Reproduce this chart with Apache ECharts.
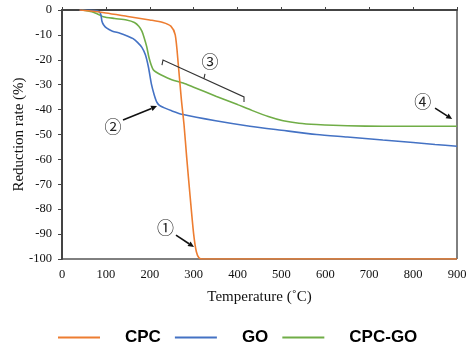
<!DOCTYPE html>
<html><head><meta charset="utf-8">
<script src="https://cdn.jsdelivr.net/npm/echarts@6/dist/echarts.min.js"></script>
<style>html,body{margin:0;padding:0;background:#fff}#c{width:469px;height:350px}</style>
</head><body><div id="c"></div>
<script>
// ---- data ----
const seriesNames = ['CPC', 'GO', 'CPC-GO'];
const cpcTemp = [40, 60, 100, 150, 200, 230, 248, 258, 265, 272, 278, 284, 292, 300, 306, 312, 320, 400, 500, 600, 700, 800, 900];
const cpcRate = [0, -0.3, -1.2, -2.6, -4, -5, -6.5, -10, -22, -36, -46, -59, -75, -90, -97, -99.5, -100, -100, -100, -100, -100, -100, -100];
const goTemp = [40, 80, 88, 91, 95, 102, 115, 132, 150, 162, 172, 182, 190, 197, 204, 210, 216, 222, 232, 250, 276, 350, 428, 500, 580, 650, 731, 800, 850, 900];
const goRate = [0, -0.3, -1.5, -4.5, -6, -7.3, -8.5, -9.3, -10.5, -11.5, -13, -15, -18, -23, -30, -34, -37, -38.3, -39.2, -40.5, -42, -44.5, -46.7, -48.3, -50, -51, -52.2, -53.2, -54, -54.7];
const cpcgoTemp = [45, 68, 80, 94, 120, 147, 165, 175, 182, 187, 193, 198, 203, 208, 215, 225, 250, 276, 300, 352, 400, 428, 470, 504, 540, 580, 650, 731, 800, 900];
const cpcgoRate = [0, -0.7, -1.5, -2.7, -3.4, -4, -5, -6.5, -8.5, -11, -14.7, -19, -22, -24, -25, -26, -28, -29.3, -31, -34.7, -38, -40, -42.8, -44.5, -45.5, -46, -46.5, -46.7, -46.7, -46.7];
const xTickValues = [0, 100, 200, 300, 400, 500, 600, 700, 800, 900];
const yTickValues = [0, -10, -20, -30, -40, -50, -60, -70, -80, -90, -100];
// annotations (data coordinates)
const annotLabels = ['①', '②', '③', '④'];
const annotAt = [[236, -87.4], [116, -47], [337, -20.6], [822, -36.8]];
const arrowLines = [[[259.7, -90.4], [300.8, -95.2]], [[139, -44.2], [216.5, -38.6]], [[850, -39.4], [889, -43.8]]];
const bracketPath = [[227.8, -22.1], [230.1, -20.1], [414.7, -34.9], [414.7, -36.9]];
const bracketTick = [[323.5, -27.5], [325.8, -25.7]];

const colors = ['#ED7D31', '#4472C4', '#70AD47'];
const serif = '"Liberation Serif","Times New Roman",serif';
function pairs(t, v) { return t.map((x, i) => [x, v[i]]); }

const chart = echarts.init(document.getElementById('c'));
const dataSets = [pairs(cpcTemp, cpcRate), pairs(goTemp, goRate), pairs(cpcgoTemp, cpcgoRate)];

chart.setOption({
  animation: false,
  color: colors,
  grid: { left: 62, right: 12, top: 10, bottom: 91, outerBoundsMode: 'none', containLabel: false,
    show: true, borderColor: '#000', borderWidth: 1, backgroundColor: 'transparent' },
  xAxis: [{
    type: 'value', min: 0, max: 900, interval: 100, position: 'bottom',
    axisLine: { show: false }, axisTick: { show: false }, splitLine: { show: false },
    axisLabel: { fontFamily: serif, fontSize: 12.5, color: '#111', margin: 9,
      formatter: v => xTickValues.includes(v) ? String(v) : '' },
    name: 'Temperature (˚C)', nameLocation: 'middle', nameGap: 31,
    nameTextStyle: { fontFamily: serif, fontSize: 15, color: '#111' }
  }, {
    type: 'value', min: 0, max: 900, interval: 100, position: 'top',
    axisLine: { show: true, onZero: false, lineStyle: { color: '#444', width: 2 } },
    axisTick: { show: true, length: 3, lineStyle: { color: '#444' } },
    axisLabel: { show: false }, splitLine: { show: false }
  }],
  yAxis: {
    type: 'value', min: -100, max: 0, interval: 10,
    axisLine: { show: true, onZero: false, lineStyle: { color: '#444', width: 2 } },
    axisTick: { show: true, length: 4, lineStyle: { color: '#444' } },
    splitLine: { show: false },
    axisLabel: { fontFamily: serif, fontSize: 12.5, color: '#111', margin: 10,
      formatter: v => yTickValues.includes(v) ? String(v) : '' },
    name: 'Reduction rate (%)', nameLocation: 'middle', nameGap: 35, nameRotate: 90,
    nameMoveOverlap: false,
    nameTextStyle: { fontFamily: serif, fontSize: 15, color: '#111' }
  },
  legend: {
    left: 53, top: 324, itemWidth: 42, itemHeight: 14, itemGap: 14,
    icon: 'path://M0,6 L42,6 L42,8 L0,8 Z',
    textStyle: { fontFamily: 'Arial, "Liberation Sans", sans-serif', fontWeight: 'bold', fontSize: 17, color: '#000', padding: [0, 0, 0, 20] },
    data: seriesNames
  },
  series: seriesNames.map((n, i) => ({
    name: n, type: 'line', data: dataSets[i], showSymbol: false, symbol: 'none',
    smooth: 0.25,
    lineStyle: { width: 1.6, color: colors[i] }, itemStyle: { color: colors[i] },
    z: 3 - i
  }))
});

function px(p) { return chart.convertToPixel({ xAxisIndex: 0, yAxisIndex: 0 }, p); }
const g = [];
annotLabels.forEach((t, i) => {
  const p = px(annotAt[i]);
  g.push({ type: 'text', x: p[0], y: p[1], z: 100,
    style: { text: t, fontFamily: '"Noto Sans CJK JP","DejaVu Sans",sans-serif', fontSize: 17, fill: '#222', align: 'center', verticalAlign: 'middle' } });
});
arrowLines.forEach(a => {
  const s = px(a[0]), e = px(a[1]);
  const dx = e[0] - s[0], dy = e[1] - s[1], L = Math.hypot(dx, dy), ux = dx / L, uy = dy / L;
  const hl = 6, hw = 2.8;
  const bx = e[0] - ux * hl, by = e[1] - uy * hl;
  g.push({ type: 'line', z: 100, shape: { x1: s[0], y1: s[1], x2: bx, y2: by }, style: { stroke: '#111', lineWidth: 1.6 } });
  g.push({ type: 'polygon', z: 100, shape: { points: [e, [bx - uy * hw, by + ux * hw], [bx + uy * hw, by - ux * hw]] }, style: { fill: '#111' } });
});
g.push({ type: 'polyline', z: 100, shape: { points: bracketPath.map(px) }, style: { stroke: '#333', lineWidth: 1.1, fill: null } });
g.push({ type: 'polyline', z: 100, shape: { points: bracketTick.map(px) }, style: { stroke: '#333', lineWidth: 1.1, fill: null } });
chart.setOption({ graphic: g });
</script>
</body></html>
